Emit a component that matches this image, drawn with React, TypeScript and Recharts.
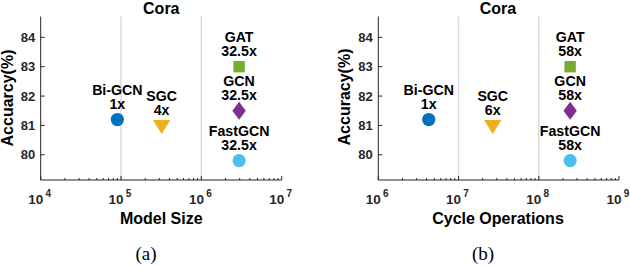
import {
  ReferenceLine,
  Scatter,
  ScatterChart,
  XAxis,
  YAxis,
} from "recharts";

const models = ["Bi-GCN", "SGC", "GAT", "GCN", "FastGCN"];
const accuracy = [81.2, 81.0, 83.0, 81.5, 79.8];
const modelSize = [9.0e4, 3.2e5, 2.95e6, 2.95e6, 2.95e6];
const sizeRatio = ["1x", "4x", "32.5x", "32.5x", "32.5x"];
const cycleOps = [4.25e6, 2.67e7, 2.46e8, 2.46e8, 2.46e8];
const opsRatio = ["1x", "6x", "58x", "58x", "58x"];
const colors = ["#0072BD", "#EDB120", "#77AC30", "#7E2F8E", "#4DBEEE"];
const markers = ["circle", "triangleDown", "square", "diamond", "circle"];

const accTicks = [80, 81, 82, 83, 84];
const accDomain = [79.14, 84.71];
const sizeTicks = [1e4, 1e5, 1e6, 1e7];
const opsTicks = [1e6, 1e7, 1e8, 1e9];

const AXIS = "#262626";
const SANS = "'Liberation Sans', Arial, sans-serif";

// minor ticks 2..9 in every decade between the major ones
const withMinor = (majors: number[]) => {
  const out: number[] = [];
  majors.forEach((m, i) => {
    out.push(m);
    if (i < majors.length - 1) for (let k = 2; k <= 9; k++) out.push(m * k);
  });
  return out;
};

const isMajor = (v: number) => Math.abs(Math.log10(v) - Math.round(Math.log10(v))) < 1e-6;

const BottomTick = (props: any) => {
  const { x, y, payload } = props;
  const major = isMajor(payload.value);
  return (
    <g>
      <line x1={x} x2={x} y1={y} y2={y - (major ? 4 : 2)} stroke={AXIS} />
      {major && (
        <g fontFamily={SANS} fontWeight="bold" fill={AXIS}>
          <text x={x + 2.6} y={y + 24.3} fontSize={13.5} textAnchor="end">
            10
          </text>
          <text x={x + 4.8} y={y + 16.8} fontSize={10} textAnchor="start">
            {Math.round(Math.log10(payload.value))}
          </text>
        </g>
      )}
    </g>
  );
};

const TopTick = (props: any) => {
  const { x, y, payload } = props;
  const major = isMajor(payload.value);
  return <line x1={x} x2={x} y1={y} y2={y + (major ? 4 : 2)} stroke={AXIS} />;
};

const LeftTick = (props: any) => {
  const { x, y, payload } = props;
  return (
    <g>
      <line x1={x} x2={x + 4} y1={y} y2={y} stroke={AXIS} />
      <text
        x={x - 5.5}
        y={y + 4.6}
        textAnchor="end"
        fontFamily={SANS}
        fontWeight="bold"
        fontSize={13}
        fill={AXIS}
      >
        {payload.value}
      </text>
    </g>
  );
};

const RightTick = (props: any) => {
  const { x, y } = props;
  return <line x1={x} x2={x - 4} y1={y} y2={y} stroke={AXIS} />;
};

const marker = (kind: string, cx: number, cy: number, color: string) => {
  if (kind === "circle") return <circle cx={cx} cy={cy} r={6.6} fill={color} />;
  if (kind === "square")
    return <rect x={cx - 5.7} y={cy - 5.7} width={11.4} height={11.4} fill={color} />;
  if (kind === "diamond")
    return (
      <polygon
        points={`${cx},${cy - 9} ${cx + 6.7},${cy} ${cx},${cy + 9} ${cx - 6.7},${cy}`}
        fill={color}
      />
    );
  return (
    <polygon
      points={`${cx - 8.7},${cy - 5.5} ${cx + 8.7},${cy - 5.5} ${cx},${cy + 8.5}`}
      fill={color}
    />
  );
};

const makeShape = (kind: string, color: string) => (props: any) => {
  const { cx, cy, payload } = props;
  return (
    <g>
      {marker(kind, cx, cy, color)}
      <g fontFamily={SANS} fontWeight="bold" fontSize={14.2} fill="#000" textAnchor="middle">
        <text x={cx} y={cy - 24.6}>
          {payload.name}
        </text>
        <text x={cx} y={cy - 10.8}>
          {payload.ratio}
        </text>
      </g>
    </g>
  );
};

type PanelProps = {
  xs: number[];
  ratios: string[];
  ticks: number[];
  left: number;
  yAxisWidth: number;
  rightMargin: number;
};

const Panel = ({ xs, ratios, ticks, left, yAxisWidth, rightMargin }: PanelProps) => {
  const domain = [ticks[0], ticks[ticks.length - 1]];
  const allTicks = withMinor(ticks);
  const grid = ticks.slice(1, -1);
  return (
    <div style={{ position: "absolute", left, top: 0 }}>
      <ScatterChart
        width={315}
        height={266}
        margin={{ top: 16.5, right: rightMargin, bottom: 0, left: 0 }}
      >
        <XAxis
          type="number"
          dataKey="x"
          scale="log"
          domain={domain}
          ticks={allTicks}
          interval={0}
          height={86}
          tickSize={0}
          tickMargin={0}
          tickLine={false}
          axisLine={{ stroke: AXIS }}
          tick={BottomTick}
        />
        <XAxis
          xAxisId="top"
          orientation="top"
          type="number"
          scale="log"
          domain={domain}
          ticks={allTicks}
          interval={0}
          height={0}
          tickSize={0}
          tickMargin={0}
          tickLine={false}
          axisLine={{ stroke: AXIS }}
          tick={TopTick}
        />
        <YAxis
          type="number"
          dataKey="y"
          domain={accDomain}
          ticks={accTicks}
          interval={0}
          width={yAxisWidth}
          tickSize={0}
          tickMargin={0}
          tickLine={false}
          axisLine={{ stroke: AXIS }}
          tick={LeftTick}
        />
        <YAxis
          yAxisId="right"
          orientation="right"
          type="number"
          domain={accDomain}
          ticks={accTicks}
          interval={0}
          width={0}
          tickSize={0}
          tickMargin={0}
          tickLine={false}
          axisLine={{ stroke: AXIS }}
          tick={RightTick}
        />
        {grid.map((g) => (
          <ReferenceLine key={g} x={g} stroke="#dadada" strokeWidth={1.5} />
        ))}
        {models.map((m, i) => (
          <Scatter
            key={m}
            name={m}
            data={[{ x: xs[i], y: accuracy[i], name: m, ratio: ratios[i] }]}
            shape={makeShape(markers[i], colors[i])}
            isAnimationActive={false}
          />
        ))}
      </ScatterChart>
    </div>
  );
};

const Texts = () => (
  <svg
    width={630}
    height={266}
    style={{ position: "absolute", left: 0, top: 0, pointerEvents: "none" }}
  >
    <g fontFamily={SANS} fontWeight="bold" fontSize={16} fill="#000" textAnchor="middle">
      <text x={161.3} y={13.5}>Cora</text>
      <text x={498} y={13.5}>Cora</text>
      <text x={161.3} y={224.3}>Model Size</text>
      <text x={498} y={224.3}>Cycle Operations</text>
      <text transform="translate(12.5 98) rotate(-90)">Accuarcy(%)</text>
      <text transform="translate(350 97) rotate(-90)">Accuracy(%)</text>
    </g>
    <g fontFamily="'Liberation Serif', 'Times New Roman', serif" fontSize={19} fill="#000" textAnchor="middle">
      <text x={146} y={260}>(a)</text>
      <text x={483} y={260}>(b)</text>
    </g>
  </svg>
);

export default function App() {
  return (
    <div style={{ position: "absolute", left: 0, top: 0, width: 630, height: 266, background: "#fff" }}>
      <Panel xs={modelSize} ratios={sizeRatio} ticks={sizeTicks} left={0} yAxisWidth={40.7} rightMargin={33.3} />
      <Panel xs={cycleOps} ratios={opsRatio} ticks={opsTicks} left={315} yAxisWidth={63.3} rightMargin={11} />
      <Texts />
    </div>
  );
}
